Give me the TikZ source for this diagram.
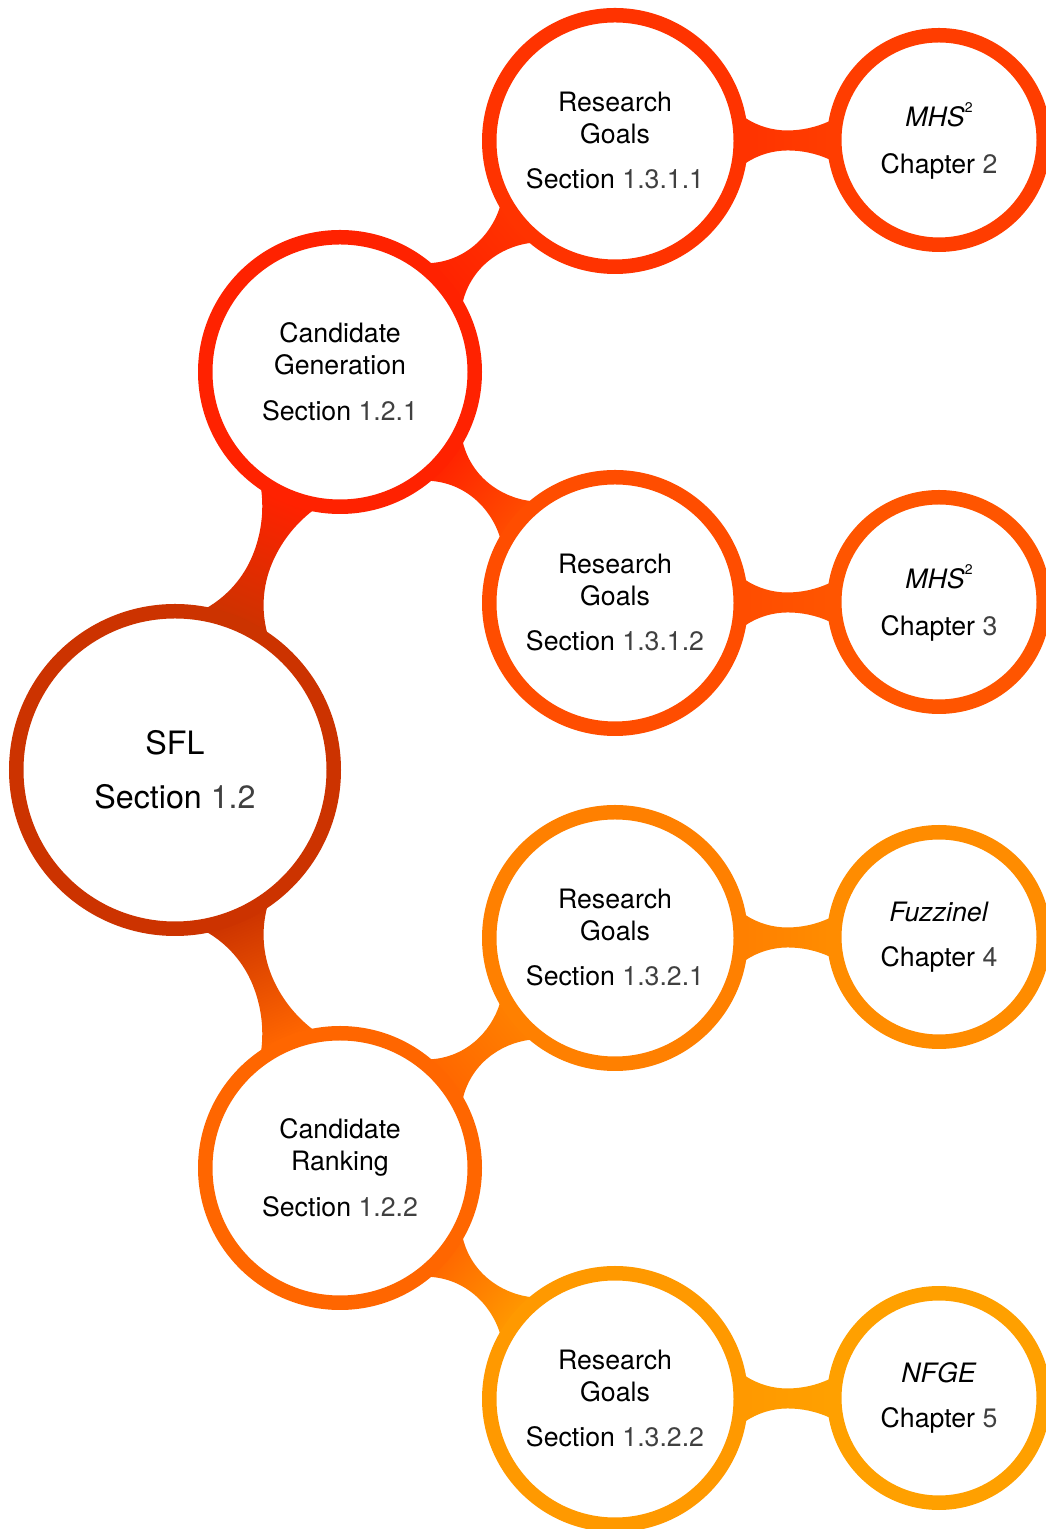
\documentclass[tikz,border=0pt]{standalone}
\usepackage{fontspec}
\setmainfont{TeX Gyre Heros}
\usetikzlibrary{calc,backgrounds}

% ring colours, from the root outwards
\definecolor{cRoot}{HTML}{CC3300}
\definecolor{cCG}{HTML}{FF2200}
\definecolor{cCR}{HTML}{FF6600}
\definecolor{cRGa}{HTML}{FF3300}
\definecolor{cRGb}{HTML}{FF4D00}
\definecolor{cRGc}{HTML}{FF8000}
\definecolor{cRGd}{HTML}{FF9900}
\definecolor{cLa}{HTML}{FF3D00}
\definecolor{cLb}{HTML}{FF5500}
\definecolor{cLc}{HTML}{FF8C00}
\definecolor{cLd}{HTML}{FFA000}
\definecolor{numgray}{HTML}{404040}

\newcommand\nr[1]{\textcolor{numgray}{#1}}
\newcommand\sqtwo{\raisebox{13.5pt}[25pt][0pt]{\fontsize{14pt}{14pt}\selectfont 2}}
\newcommand\nodefont{\fontsize{26.7pt}{32pt}\selectfont}
\newcommand\rootfont{\fontsize{32.2pt}{39pt}\selectfont}

% point given in the local frame of a bar: along the axis from \lbnode, then sideways
\newcommand\lbp[2]{($(\lbnode)+(\lbang:{#1 pt})+({\lbang+90}:{#2 pt})$)}

% shaded connection bar between two ring nodes; its sides are circular arcs
% that meet at the waist, halfway along the gap
% #1 node A, #2 outer radius A, #3 node B, #4 outer radius B,
% #5 half width at the waist, #6 flare angle, #7 colour A, #8 colour B
\newcommand\linkbar[8]{%
  \def\lbnode{#1}%
  \pgfpointanchor{#1}{center}\pgfgetlastxy\lbax\lbay
  \pgfpointanchor{#3}{center}\pgfgetlastxy\lbbx\lbby
  \pgfmathsetmacro\lbang{atan2(\lbby-\lbay,\lbbx-\lbax)}%
  \pgfmathsetmacro\lbsh{\lbang-90}%
  \pgfmathsetmacro\lbdist{veclen(\lbbx-\lbax,\lbby-\lbay)}%
  \pgfmathsetmacro\lbm{#2+(\lbdist-#2-#4)/2}%
  \pgfmathsetmacro\lbfx{(#2-1)*cos(#6)}%
  \pgfmathsetmacro\lbfy{(#2-1)*sin(#6)}%
  \pgfmathsetmacro\lbgx{\lbdist-(#4-1)*cos(#6)}%
  \pgfmathsetmacro\lbgy{(#4-1)*sin(#6)}%
  \pgfmathsetmacro\lbdxa{\lbm-\lbfx}%
  \pgfmathsetmacro\lbdya{\lbfy-#5}%
  \pgfmathsetmacro\lbrha{(\lbdxa*\lbdxa+\lbdya*\lbdya)/(2*\lbdya)}%
  \pgfmathsetmacro\lbpsa{asin(\lbdxa/\lbrha)}%
  \pgfmathsetmacro\lbdxb{\lbgx-\lbm}%
  \pgfmathsetmacro\lbdyb{\lbgy-#5}%
  \pgfmathsetmacro\lbrhb{(\lbdxb*\lbdxb+\lbdyb*\lbdyb)/(2*\lbdyb)}%
  \pgfmathsetmacro\lbpsb{asin(\lbdxb/\lbrhb)}%
  \pgfmathsetmacro\lbaa{\lbang-90-\lbpsa}%
  \pgfmathsetmacro\lbab{\lbang-90}%
  \pgfmathsetmacro\lbac{\lbang-90+\lbpsb}%
  \pgfmathsetmacro\lbad{\lbang+90-\lbpsb}%
  \pgfmathsetmacro\lbae{\lbang+90}%
  \pgfmathsetmacro\lbaf{\lbang+90+\lbpsa}%
  \shade[bottom color=#7, top color=#8, shading angle=\lbsh]
    \lbp{\lbfx}{\lbfy}
      arc[start angle=\lbaa, end angle=\lbab, radius=\lbrha pt]
      arc[start angle=\lbab, end angle=\lbac, radius=\lbrhb pt]
    -- \lbp{\lbgx}{-\lbgy}
      arc[start angle=\lbad, end angle=\lbae, radius=\lbrhb pt]
      arc[start angle=\lbae, end angle=\lbaf, radius=\lbrha pt]
    -- cycle;
}

\tikzset{
  ring/.style={circle, draw=#1, fill=white, line width=14.5pt,
    inner sep=0pt, align=center, text=black, font=\nodefont},
  rootring/.style={ring=#1, minimum size=317.5pt, font=\rootfont},
  midring/.style={ring=#1, minimum size=269.5pt},
  goalring/.style={ring=#1, minimum size=251.5pt},
  leafring/.style={ring=#1, minimum size=209.5pt},
}

\begin{document}
\begin{tikzpicture}[x=1pt,y=1pt]
\useasboundingbox (0,0) rectangle (1046,1529);

\node[rootring=cRoot] (sfl) at (175,759) {SFL\\[15pt]Section \nr{1.2}};

\node[midring=cCG] (cg) at (340,1157) {Candidate\\Generation\\[14pt]Section \nr{1.2.1}};
\node[midring=cCR] (cr) at (340,361) {Candidate\\Ranking\\[14pt]Section \nr{1.2.2}};

\node[goalring=cRGa] (rg1) at (615,1388) {Research\\Goals\\[13pt]Section \nr{1.3.1.1}};
\node[goalring=cRGb] (rg2) at (615,926) {Research\\Goals\\[13pt]Section \nr{1.3.1.2}};
\node[goalring=cRGc] (rg3) at (615,591) {Research\\Goals\\[13pt]Section \nr{1.3.2.1}};
\node[goalring=cRGd] (rg4) at (615,130) {Research\\Goals\\[13pt]Section \nr{1.3.2.2}};

\node[leafring=cLa] (ch2) at (939,1389) {\textit{MHS}\sqtwo\\[15pt]Chapter \nr{2}};
\node[leafring=cLb] (ch3) at (939,927) {\textit{MHS}\sqtwo\\[15pt]Chapter \nr{3}};
\node[leafring=cLc] (ch4) at (939,592) {\textit{Fuzzinel}\\[13pt]Chapter \nr{4}};
\node[leafring=cLd] (ch5) at (939,131) {\textit{NFGE}\\[13pt]Chapter \nr{5}};

\begin{scope}[on background layer]
  \fill[white] (0,0) rectangle (1046,1529);
  \linkbar{sfl}{166}{cg}{142}{10.5}{11.5}{cRoot}{cCG}
  \linkbar{sfl}{166}{cr}{142}{10.5}{11.5}{cRoot}{cCR}
  \linkbar{cg}{142}{rg1}{133}{10.5}{10.5}{cCG}{cRGa}
  \linkbar{cg}{142}{rg2}{133}{10.5}{10.5}{cCG}{cRGb}
  \linkbar{cr}{142}{rg3}{133}{10.5}{10.5}{cCR}{cRGc}
  \linkbar{cr}{142}{rg4}{133}{10.5}{10.5}{cCR}{cRGd}
  \linkbar{rg1}{133}{ch2}{112}{10}{10}{cRGa}{cLa}
  \linkbar{rg2}{133}{ch3}{112}{10}{10}{cRGb}{cLb}
  \linkbar{rg3}{133}{ch4}{112}{10}{10}{cRGc}{cLc}
  \linkbar{rg4}{133}{ch5}{112}{10}{10}{cRGd}{cLd}
\end{scope}
\end{tikzpicture}
\end{document}
